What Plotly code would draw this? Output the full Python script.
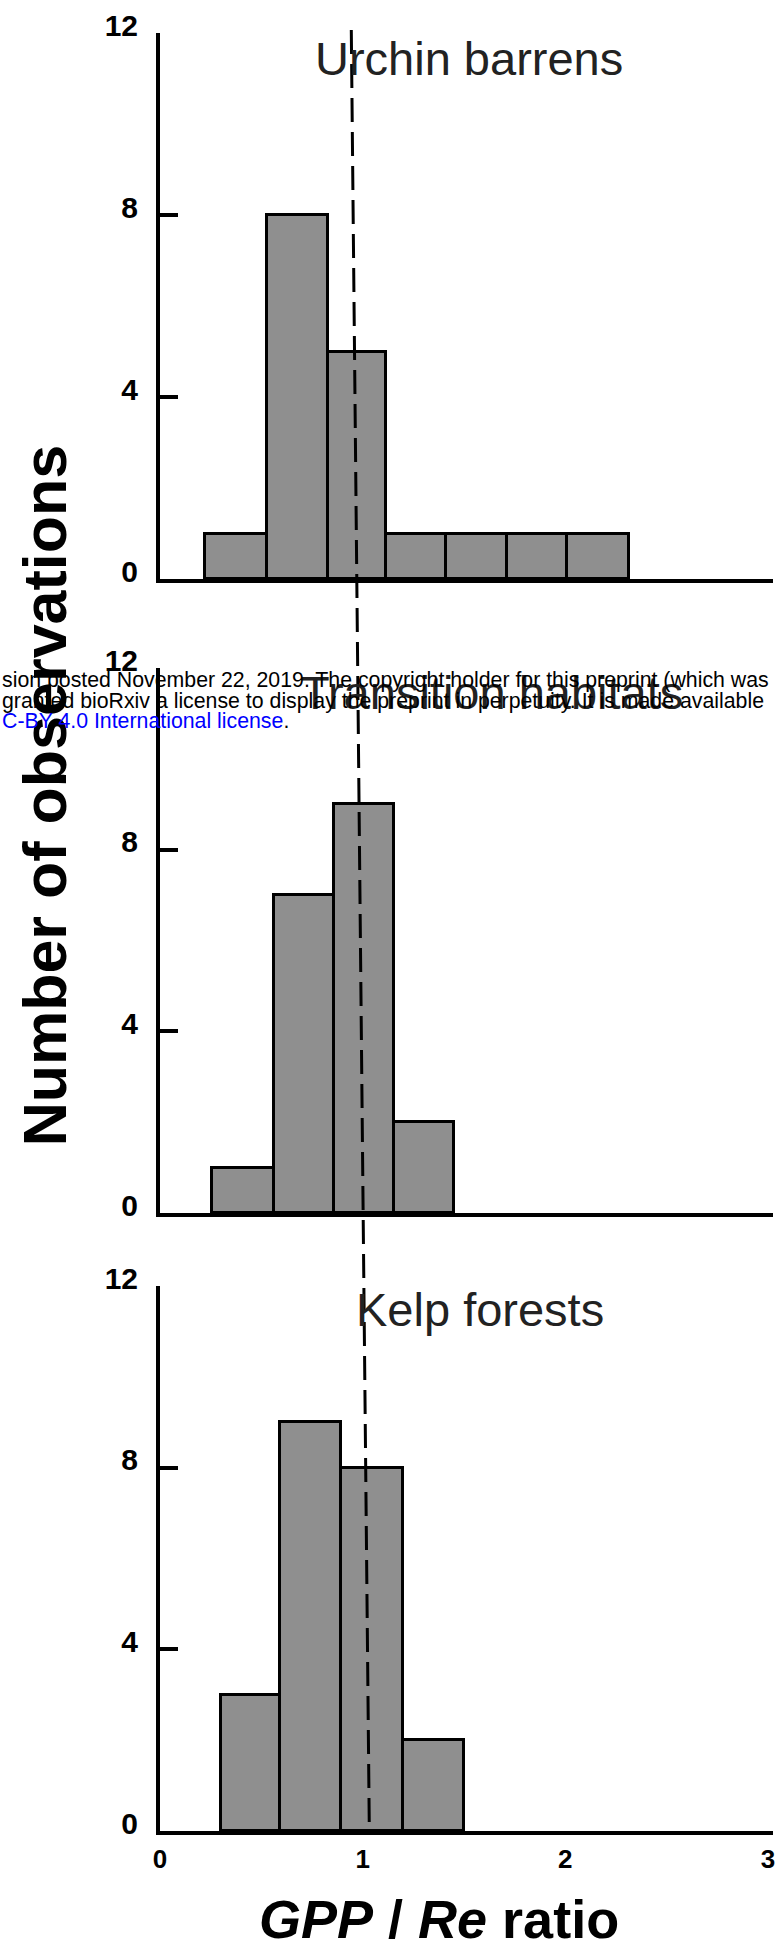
import plotly.graph_objects as go

# ---------------- data ----------------
habitats = ["Urchin barrens", "Transition habitats", "Kelp forests"]

# bin edges (GPP/Re ratio) and counts for each habitat
urchin_edges = [0.223, 0.530, 0.827, 1.113, 1.409, 1.712, 2.009, 2.313]
urchin_counts = [1, 8, 5, 1, 1, 1, 1]

transition_edges = [0.259, 0.562, 0.859, 1.155, 1.451]
transition_counts = [1, 7, 9, 2]

kelp_edges = [0.300, 0.594, 0.894, 1.197, 1.500]
kelp_counts = [3, 9, 8, 2]

# reference line GPP/Re = 1 (drawn slightly slanted in the original figure)
ref_line_top_x = 0.944
ref_line_bottom_x = 1.033

y_tick_vals = [0, 4, 8, 12]
x_tick_vals = [0, 1, 2, 3]

y_title = "Number of observations"
x_title = "<b><i>GPP</i> / <i>Re</i> ratio</b>"

watermark_lines = [
    "sion posted November 22, 2019. The copyright holder for this preprint (which was",
    "granted bioRxiv a license to display the preprint in perpetuity. It is made available",
]
watermark_link = "C-BY 4.0 International license"

# ---------------- figure ----------------
W, H = 775, 1960
L, R, T, B = 160, 0, 33, 129
plot_w = W - L - R
plot_h = H - T - B

def ypaper(px):
    return (H - B - px) / plot_h

def xpaper(px):
    return (px - L) / plot_w

domains = [
    [ypaper(579), 1.0],
    [ypaper(1213), ypaper(668)],
    [0.0, ypaper(1286)],
]

x_range = [0.0, 3.025]
FONT = "Liberation Sans, Arial, Helvetica, sans-serif"

fig = go.Figure()

series = [(urchin_edges, urchin_counts), (transition_edges, transition_counts), (kelp_edges, kelp_counts)]
for i, (edges, counts) in enumerate(series):
    centers = [(edges[k] + edges[k + 1]) / 2 for k in range(len(counts))]
    widths = [edges[k + 1] - edges[k] for k in range(len(counts))]
    sfx = "" if i == 0 else str(i + 1)
    fig.add_trace(go.Bar(
        x=centers, y=counts, width=widths,
        marker=dict(color="#8f8f8f", line=dict(color="black", width=3)),
        xaxis="x" + sfx, yaxis="y" + sfx, showlegend=False,
        hoverinfo="x+y",
    ))

layout = dict(
    width=W, height=H,
    margin=dict(l=L, r=R, t=T, b=B, pad=0),
    paper_bgcolor="white", plot_bgcolor="white",
    font=dict(family=FONT, color="black"),
    bargap=0, showlegend=False,
)

for i in range(3):
    sfx = "" if i == 0 else str(i + 1)
    bottom = (i == 2)
    layout["xaxis" + sfx] = dict(
        domain=[0, 1], anchor="y" + sfx, range=x_range,
        showline=True, linecolor="black", linewidth=4,
        showgrid=False, zeroline=False,
        ticks="", tickvals=x_tick_vals,
        showticklabels=bottom,
        tickfont=dict(family=FONT, size=26, color="black", weight="bold"),
        ticklabelstandoff=2, ticklabeloverflow="allow",
    )
    layout["yaxis" + sfx] = dict(
        domain=domains[i], anchor="x" + sfx, range=[0, 12],
        showline=True, linecolor="black", linewidth=4,
        showgrid=False, zeroline=False,
        ticks="inside", ticklen=18, tickwidth=4, tickcolor="black",
        tickvals=y_tick_vals,
        tickfont=dict(family=FONT, size=30, color="black", weight="bold"),
        ticklabelstandoff=12, ticklabelshift=-8,
    )

fig.update_layout(**layout)

# panel titles
title_pos = [(0.757, 11.43), (0.684, 11.45), (0.959, 11.49)]
annotations = []
for i, name in enumerate(habitats):
    sfx = "" if i == 0 else str(i + 1)
    annotations.append(dict(
        text=name, x=title_pos[i][0], y=title_pos[i][1],
        xref="x" + sfx, yref="y" + sfx, xanchor="left", yanchor="middle",
        showarrow=False, font=dict(family=FONT, size=47, color="#222222"),
    ))

# axis titles
annotations.append(dict(
    text="<b>" + y_title + "</b>", textangle=-90,
    x=xpaper(45), y=ypaper(795), xref="paper", yref="paper",
    xanchor="center", yanchor="middle", showarrow=False,
    font=dict(family=FONT, size=61, color="black"),
))
annotations.append(dict(
    text=x_title,
    x=xpaper(440), y=ypaper(1919), xref="paper", yref="paper",
    xanchor="center", yanchor="middle", showarrow=False,
    font=dict(family=FONT, size=54, color="black"),
))

# bioRxiv watermark
wm_y = [680, 701, 721]
for k, line in enumerate(watermark_lines):
    annotations.append(dict(
        text=line, x=xpaper(-1), y=ypaper(wm_y[k]),
        xref="paper", yref="paper", xanchor="left", yanchor="middle",
        showarrow=False, font=dict(family=FONT, size=21.3, color="black"),
    ))
annotations.append(dict(
    text='<span style="color:#0000ff">' + watermark_link + '</span>.',
    x=xpaper(-1), y=ypaper(wm_y[2]),
    xref="paper", yref="paper", xanchor="left", yanchor="middle",
    showarrow=False, font=dict(family=FONT, size=21.3, color="black"),
))

fig.update_layout(annotations=annotations)

# dashed reference line at GPP/Re = 1 spanning all panels
fig.add_shape(
    type="line", xref="x3", yref="paper",
    x0=ref_line_top_x, x1=ref_line_bottom_x,
    y0=ypaper(30), y1=0,
    line=dict(color="black", width=3, dash="24px,10px"),
    layer="above",
)

fig.write_html("out.html")
